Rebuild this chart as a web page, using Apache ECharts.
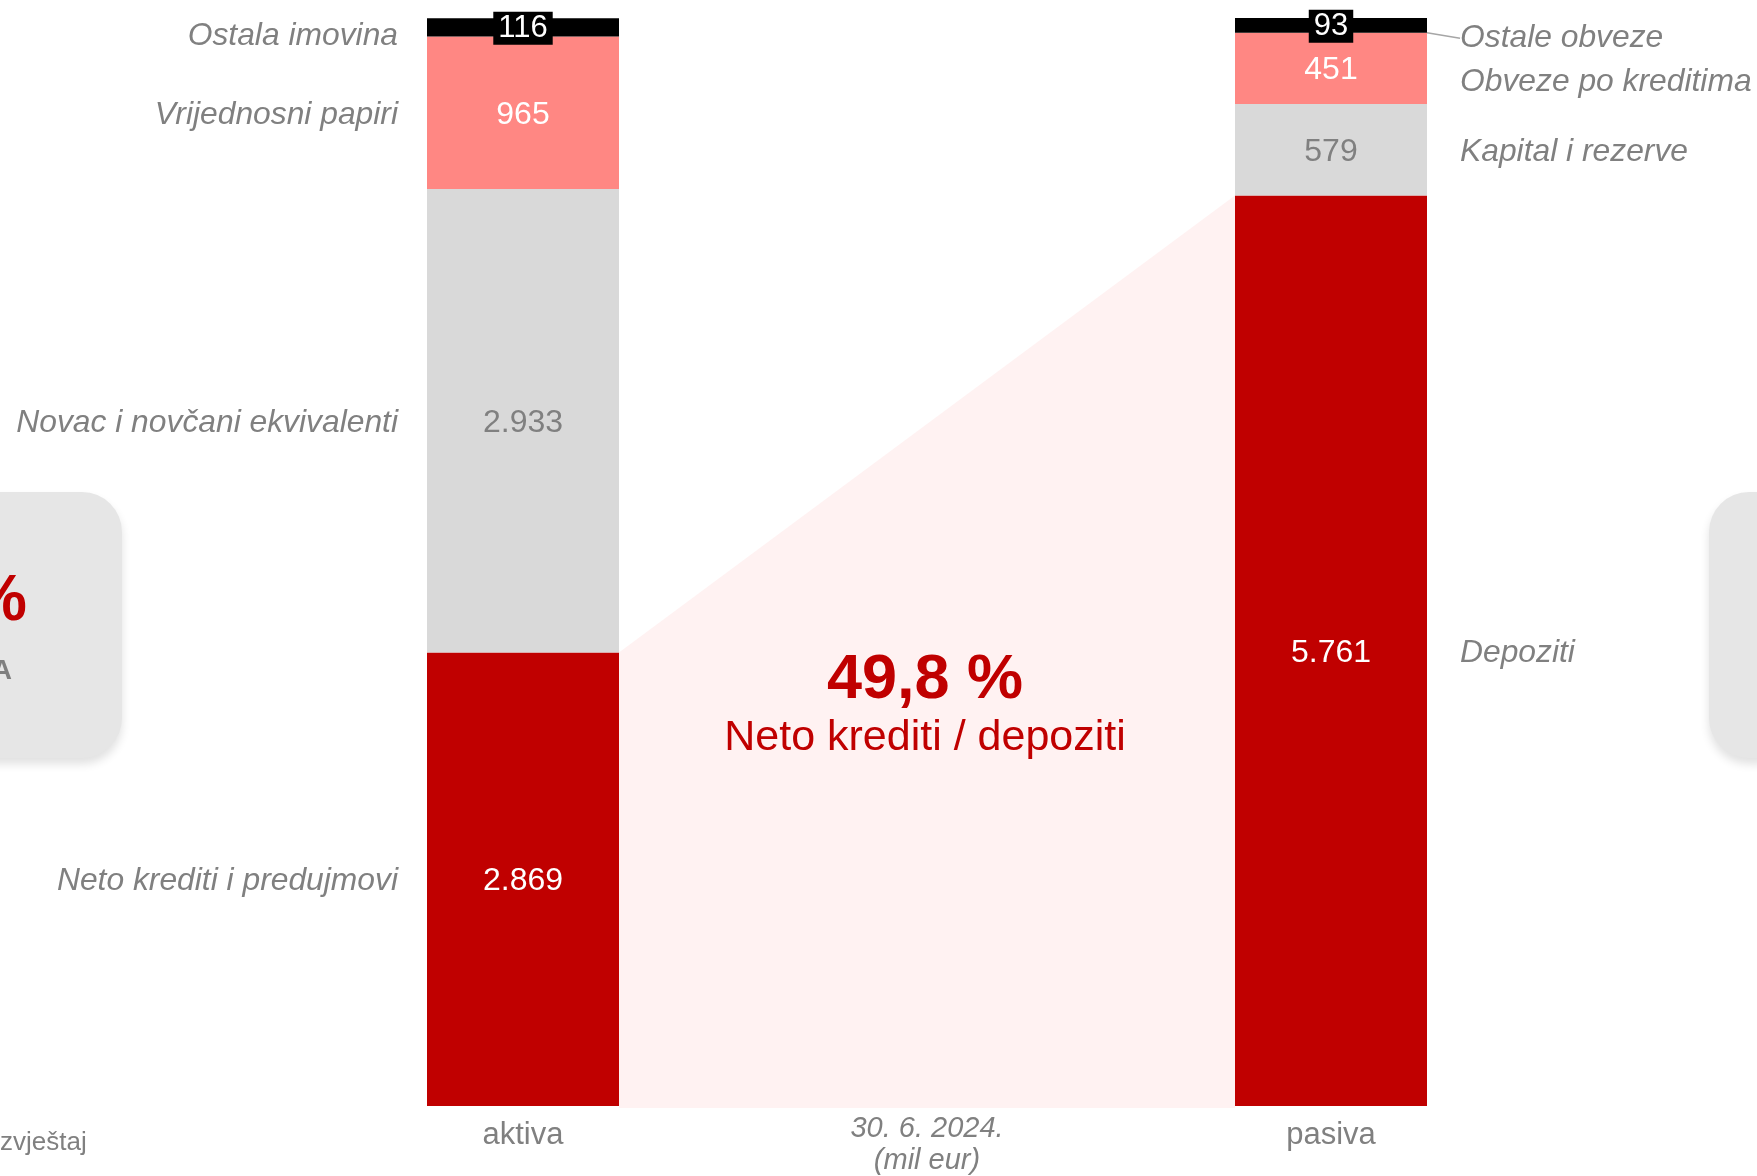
<!DOCTYPE html>
<html>
<head>
<meta charset="utf-8">
<script src="https://cdn.jsdelivr.net/npm/echarts/dist/echarts.min.js"></script>
<style>
  html, body { margin: 0; padding: 0; background: #fff; }
  #chart { width: 1757px; height: 1176px; }
</style>
</head>
<body>
<div id="chart"></div>
<script>
// kategorije i tick labele
var categories = ['aktiva', 'datum', 'pasiva'];
var tickLabels = ['aktiva', '30. 6. 2024.\n(mil eur)', 'pasiva'];

// vrijednosti (mil eur), odozdo prema gore
var creditsDeposits = [2869, '-', 5761];
var cashCapital = [2933, '-', 579];
var securitiesBorrowings = [965, '-', 451];
var otherItems = [116, '-', 93];

// nazivi pozicija
var namesCredits = ['Neto krediti i predujmovi', '', 'Depoziti'];
var namesCash = ['Novac i novčani ekvivalenti', '', 'Kapital i rezerve'];
var namesSecurities = ['Vrijednosni papiri', '', 'Obveze po kreditima'];
var namesOther = ['Ostala imovina', '', 'Ostale obveze'];

var RED = '#c00000', PINK = '#ff8783', GREY = '#d9d9d9', BLACK = '#000000', TXT = '#808080';
var BAR_W = 192;
var FONT = '"Liberation Sans", Arial, sans-serif';

function fmt(v) {
  if (v >= 1000) {
    var r = String(v % 1000);
    while (r.length < 3) r = '0' + r;
    return Math.floor(v / 1000) + '.' + r;
  }
  return String(v);
}

function valueSeries(name, data, color, labelColor, boxed) {
  var label = {
    show: true,
    position: 'inside',
    offset: [0, 2],
    color: labelColor,
    fontFamily: FONT,
    fontSize: 32,
    formatter: function (p) { return fmt(p.value); }
  };
  if (boxed) {
    label.offset = [0, 1];
    label.fontSize = 31;
    label.backgroundColor = BLACK;
    label.padding = [1, 5];
    label.lineHeight = 31;
  }
  return {
    name: name,
    type: 'bar',
    stack: 'v',
    barWidth: BAR_W,
    barGap: '-100%',
    itemStyle: {color: color},
    label: label,
    z: 3,
    data: data
  };
}

// nevidljivi stupci za nazive lijevo / desno
function nameSeries(values, names, dy, withLine) {
  var data = [];
  for (var i = 0; i < values.length; i++) {
    if (values[i] === '-') { data.push('-'); continue; }
    var item = {
      value: values[i],
      label: {
        position: i === 0 ? 'left' : 'right',
        distance: i === 0 ? 29 : 33,
        formatter: names[i]
      }
    };
    if (withLine && i === 2) {
      item.labelLine = {show: true, lineStyle: {color: '#a6a6a6', width: 1.5}};
    }
    data.push(item);
  }
  return {
    type: 'bar',
    stack: 'n',
    barWidth: BAR_W,
    barGap: '-100%',
    itemStyle: {color: 'rgba(0,0,0,0)'},
    label: {
      show: true,
      color: TXT,
      fontFamily: FONT,
      fontSize: 31.8,
      fontStyle: 'italic'
    },
    labelLayout: function (p) {
      return {dy: (dy[p.dataIndex] || 0) + 2};
    },
    z: 4,
    data: data
  };
}

var ratio = (creditsDeposits[0] / creditsDeposits[2] * 100).toFixed(1).replace('.', ',') + ' %';

var chart = echarts.init(document.getElementById('chart'), null, {renderer: 'canvas'});

chart.setOption({
  animation: false,
  backgroundColor: '#ffffff',
  grid: {left: 321, right: 224, top: 18, bottom: 70},
  xAxis: {
    type: 'category',
    data: categories,
    axisLine: {show: false},
    axisTick: {show: false},
    axisLabel: {
      interval: 0,
      margin: 7,
      color: TXT,
      fontFamily: FONT,
      formatter: function (v, idx) {
        if (idx === 1) {
          return tickLabels[1].split('\n').map(function (s) { return '{d|' + s + '}'; }).join('\n');
        }
        return '{a|' + tickLabels[idx] + '}';
      },
      rich: {
        a: {fontSize: 31, lineHeight: 44, color: TXT, fontFamily: FONT},
        d: {fontSize: 29, lineHeight: 32, color: TXT, fontFamily: FONT, fontStyle: 'italic'}
      }
    }
  },
  yAxis: {type: 'value', min: 0, max: 6884, show: false},
  series: [
    {
      // svijetla površina krediti -> depoziti
      type: 'custom',
      silent: true,
      z: 1,
      data: [[0, creditsDeposits[0], 2, creditsDeposits[2]]],
      encode: {x: 0, y: 1},
      renderItem: function (params, api) {
        var a = api.coord([api.value(0), api.value(1)]);
        var b = api.coord([api.value(2), api.value(3)]);
        var base = api.coord([0, 0])[1];
        var h = BAR_W / 2;
        return {
          type: 'polygon',
          shape: {points: [[a[0] + h, a[1]], [b[0] - h, b[1]], [b[0] - h, base + 2], [a[0] + h, base + 2]]},
          style: {fill: '#fff2f2'}
        };
      }
    },
    valueSeries('krediti', creditsDeposits, RED, '#ffffff'),
    valueSeries('novac', cashCapital, GREY, TXT),
    valueSeries('papiri', securitiesBorrowings, PINK, '#ffffff'),
    valueSeries('ostalo', otherItems, BLACK, '#ffffff', true),
    nameSeries(creditsDeposits, namesCredits, [0, 0, 0]),
    nameSeries(cashCapital, namesCash, [0, 0, 0]),
    nameSeries(securitiesBorrowings, namesSecurities, [0, 0, 12]),
    nameSeries(otherItems, namesOther, [7, 0, 11], true)
  ],
  graphic: [
    {
      type: 'rect', silent: true, z: 0,
      shape: {x: -80, y: 492, width: 202, height: 266, r: 40},
      style: {fill: '#e6e6e6', shadowBlur: 10, shadowOffsetY: 6, shadowColor: 'rgba(0,0,0,0.12)'}
    },
    {
      type: 'rect', silent: true, z: 0,
      shape: {x: 1709, y: 492, width: 200, height: 266, r: 40},
      style: {fill: '#e6e6e6', shadowBlur: 10, shadowOffsetY: 6, shadowColor: 'rgba(0,0,0,0.12)'}
    },
    {
      type: 'text', silent: true, z: 5, x: 27, y: 602,
      style: {text: '%', fill: RED, font: 'bold 64px ' + FONT, textAlign: 'right', textVerticalAlign: 'middle'}
    },
    {
      type: 'text', silent: true, z: 5, x: 12, y: 671,
      style: {text: 'A', fill: '#7f7f7f', font: 'bold 28px ' + FONT, textAlign: 'right', textVerticalAlign: 'middle'}
    },
    {
      type: 'text', silent: true, z: 5, x: 925, y: 681,
      style: {text: ratio, fill: RED, font: 'bold 63px ' + FONT, textAlign: 'center', textVerticalAlign: 'middle'}
    },
    {
      type: 'text', silent: true, z: 5, x: 925, y: 738,
      style: {text: 'Neto krediti / depoziti', fill: RED, font: '43px ' + FONT, textAlign: 'center', textVerticalAlign: 'middle'}
    },
    {
      type: 'text', silent: true, z: 5, x: 0, y: 1143,
      style: {text: 'zvještaj', fill: TXT, font: '26px ' + FONT, textAlign: 'left', textVerticalAlign: 'middle'}
    }
  ]
});
</script>
</body>
</html>
